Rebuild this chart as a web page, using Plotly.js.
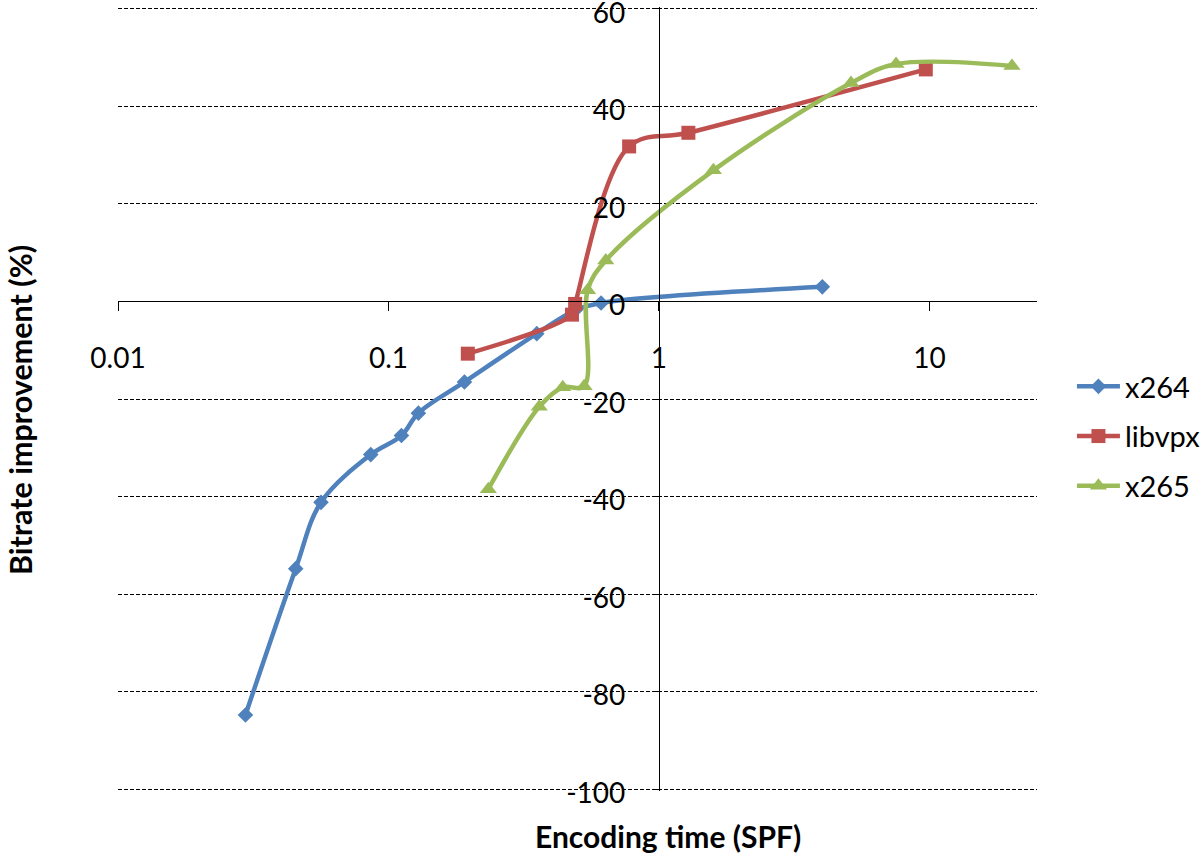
<!DOCTYPE html>
<html>
<head>
<meta charset="utf-8">
<script src="https://cdn.plot.ly/plotly-3.0.1.min.js"></script>
<style>
html,body{margin:0;padding:0;background:#fff;}
#chart{width:1202px;height:862px;}
</style>
</head>
<body>
<div id="chart"></div>
<script>
// ---- data ----
const x264Time = [0.0296, 0.0454, 0.0563, 0.086, 0.1117, 0.129, 0.191, 0.3535, 0.49, 0.611, 4.02];
const x264Gain = [-84.8, -54.8, -41.2, -31.4, -27.5, -22.9, -16.5, -6.6, -1.8, -0.3, 3.0];

const libvpxTime = [0.1965, 0.477, 0.49, 0.776, 1.285, 9.7];
const libvpxGain = [-10.7, -2.7, -0.5, 31.8, 34.6, 47.6];

const x265Time = [0.234, 0.361, 0.441, 0.529, 0.545, 0.636, 1.59, 5.13, 7.53, 20.2];
const x265Gain = [-38.5, -21.6, -17.6, -17.4, 2.3, 8.4, 26.9, 44.8, 48.7, 48.3];

const seriesNames = ['x264', 'libvpx', 'x265'];
const xTickVals = [0.01, 0.1, 1, 10];
const xTickText = ['0.01', '0.1', '1', '10'];
const yTickVals = [-100, -80, -60, -40, -20, 0, 20, 40, 60];
const yTickText = ['-100', '-80', '-60', '-40', '-20', '0', '20', '40', '60'];
const xTitle = 'Encoding time (SPF)';
const yTitle = 'Bitrate improvement (%)';

// ---- styling ----
const FONT = 'Lato, "Open Sans", sans-serif';
const xMin = 0.01, xMax = 25, yMin = -100, yMax = 60;
const eps = 0.4;

const traces = [
  {x: x264Time, y: x264Gain, name: seriesNames[0], legendgroup: 'g1',
   mode: 'lines+markers', line: {color: '#4F81BD', width: 4.5, shape: 'spline', smoothing: 1},
   marker: {symbol: 'diamond', size: 12, color: '#4F81BD'}},
  {x: libvpxTime, y: libvpxGain, name: seriesNames[1], legendgroup: 'g2',
   mode: 'lines+markers', line: {color: '#C0504D', width: 4.5, shape: 'spline', smoothing: 1},
   marker: {symbol: 'square', size: 14, color: '#C0504D'}},
  {x: x265Time, y: x265Gain, name: seriesNames[2], legendgroup: 'g3',
   mode: 'lines+markers', line: {color: '#9BBB59', width: 4.5, shape: 'spline', smoothing: 1},
   marker: {symbol: 'triangle-up', size: 15, color: '#9BBB59'}}
];

const lxMin = Math.log10(xMin), lxMax = Math.log10(xMax);
const y0 = yMin - eps, y1 = yMax + eps;

const layout = {
  width: 1202, height: 862,
  margin: {l: 118, r: 165, t: 7, b: 71, pad: 0},
  paper_bgcolor: '#ffffff', plot_bgcolor: '#ffffff',
  font: {family: FONT, size: 28, color: '#000'},
  xaxis: {
    type: 'log', range: [lxMin, lxMax],
    anchor: 'free', position: (0 - y0) / (y1 - y0),
    showline: true, linecolor: '#000', linewidth: 1,
    ticks: 'outside', ticklen: 9, tickcolor: '#000', tickwidth: 1,
    tickmode: 'array', tickvals: xTickVals, ticktext: xTickText,
    ticklabelstandoff: 23, ticklabeloverflow: 'allow',
    showgrid: false, zeroline: false,
    tickfont: {family: FONT, size: 28, color: '#000'}
  },
  yaxis: {
    range: [y0, y1],
    anchor: 'free', position: (0 - lxMin) / (lxMax - lxMin),
    showline: true, linecolor: '#000', linewidth: 1,
    ticks: 'outside', ticklen: 6, tickcolor: '#000', tickwidth: 1,
    tickmode: 'array', tickvals: yTickVals, ticktext: yTickText,
    ticklabelstandoff: 22, ticklabelshift: 4, ticklabeloverflow: 'allow',
    showgrid: true, gridcolor: '#000', gridwidth: 1, griddash: '4px,2px',
    zeroline: false,
    tickfont: {family: FONT, size: 28, color: '#000'}
  },
  showlegend: true,
  legend: {
    xref: 'container', yref: 'container',
    x: 0.8918, xanchor: 'left', y: 0.5812, yanchor: 'top',
    traceorder: 'grouped', tracegroupgap: 9, itemwidth: 43,
    bgcolor: 'rgba(0,0,0,0)', borderwidth: 0,
    font: {family: FONT, size: 29, color: '#000'}
  },
  annotations: [
    {text: '<b>' + xTitle + '</b>', xref: 'paper', yref: 'paper',
     x: 0.5985, y: -0.058, xanchor: 'center', yanchor: 'middle', showarrow: false,
     font: {family: FONT, size: 30, color: '#000'}},
    {text: '<b>' + yTitle + '</b>', xref: 'paper', yref: 'paper', textangle: -90,
     x: -0.1066, y: 0.486, xanchor: 'center', yanchor: 'middle', showarrow: false,
     font: {family: FONT, size: 30.5, color: '#000'}}
  ]
};

Plotly.newPlot('chart', traces, layout, {displayModeBar: false, staticPlot: true});
</script>
</body>
</html>
